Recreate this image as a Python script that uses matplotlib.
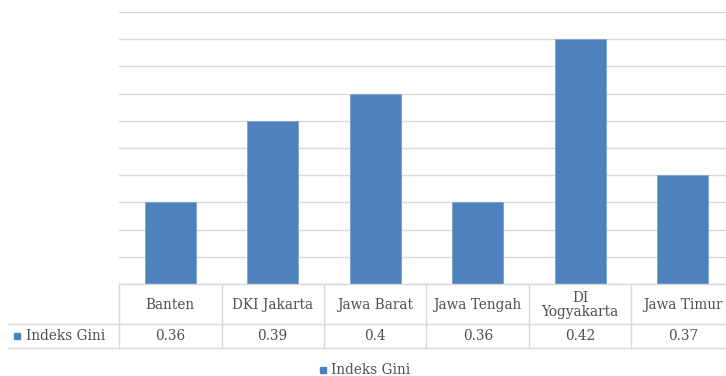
import matplotlib
matplotlib.use("Agg")
import matplotlib.pyplot as plt
from matplotlib.lines import Line2D
from matplotlib.patches import Rectangle
from matplotlib.transforms import blended_transform_factory

provinces = ["Banten", "DKI Jakarta", "Jawa Barat", "Jawa Tengah", "DI\nYogyakarta", "Jawa Timur"]
gini = [0.36, 0.39, 0.40, 0.36, 0.42, 0.37]
gini_labels = ["0.36", "0.39", "0.4", "0.36", "0.42", "0.37"]
series_name = "Indeks Gini"

bar_color = "#4f81bd"
grid_color = "#d9d9d9"
text_color = "#505050"

W, H = 726, 376
fig = plt.figure(figsize=(W / 100, H / 100), dpi=100)

plot_left, plot_right, plot_top, plot_bottom = 119, 734, 12, 284
ax = fig.add_axes([plot_left / W, 1 - plot_bottom / H,
                   (plot_right - plot_left) / W, (plot_bottom - plot_top) / H])

x = list(range(len(provinces)))
ax.bar(x, gini, width=0.5, color=bar_color, edgecolor="#7aa3d6", linewidth=0.6, zorder=3)
ax.set_xlim(-0.5, len(provinces) - 0.5)
ax.set_ylim(0.33, 0.43)
ax.set_yticks([0.33 + 0.01 * i for i in range(11)])
ax.yaxis.grid(True, color=grid_color, linewidth=1.0)
ax.set_axisbelow(True)
ax.tick_params(left=False, bottom=False, labelleft=False, labelbottom=False)
for s in ax.spines.values():
    s.set_visible(False)

# data table under the plot area
font = dict(family="DejaVu Serif", fontsize=9.8, color=text_color)
tr = blended_transform_factory(ax.transData, fig.transFigure)
fy = lambda py: 1 - py / H
fx = lambda px: px / W
row_top, row_mid, row_bot = 284, 324, 348
line_kw = dict(color=grid_color, linewidth=1.0)

fig.add_artist(Line2D([fx(plot_left), 1], [fy(row_top)] * 2, transform=fig.transFigure, **line_kw))
fig.add_artist(Line2D([fx(8), 1], [fy(row_mid)] * 2, transform=fig.transFigure, **line_kw))
fig.add_artist(Line2D([fx(8), 1], [fy(row_bot)] * 2, transform=fig.transFigure, **line_kw))
for i in range(len(provinces)):
    fig.add_artist(Line2D([i - 0.5, i - 0.5], [fy(row_top), fy(row_bot)], transform=tr, **line_kw))

for i, (name, lab) in enumerate(zip(provinces, gini_labels)):
    fig.text(i, fy((row_top + row_mid) / 2 + 1), name, transform=tr, ha="center", va="center",
             linespacing=0.95, **font)
    fig.text(i, fy((row_mid + row_bot) / 2), lab, transform=tr, ha="center", va="center", **font)

# series key in the table
fig.add_artist(Rectangle((fx(14), fy(339)), 6 / W, 6 / H, transform=fig.transFigure,
                         color=bar_color))
fig.text(fx(26), fy(336), series_name, ha="left", va="center", **font)

# legend at the bottom
fig.add_artist(Rectangle((fx(320), fy(373)), 6 / W, 6 / H, transform=fig.transFigure,
                         color=bar_color))
fig.text(fx(331), fy(370), series_name, ha="left", va="center", **font)

fig.savefig("out.png", dpi=100)
